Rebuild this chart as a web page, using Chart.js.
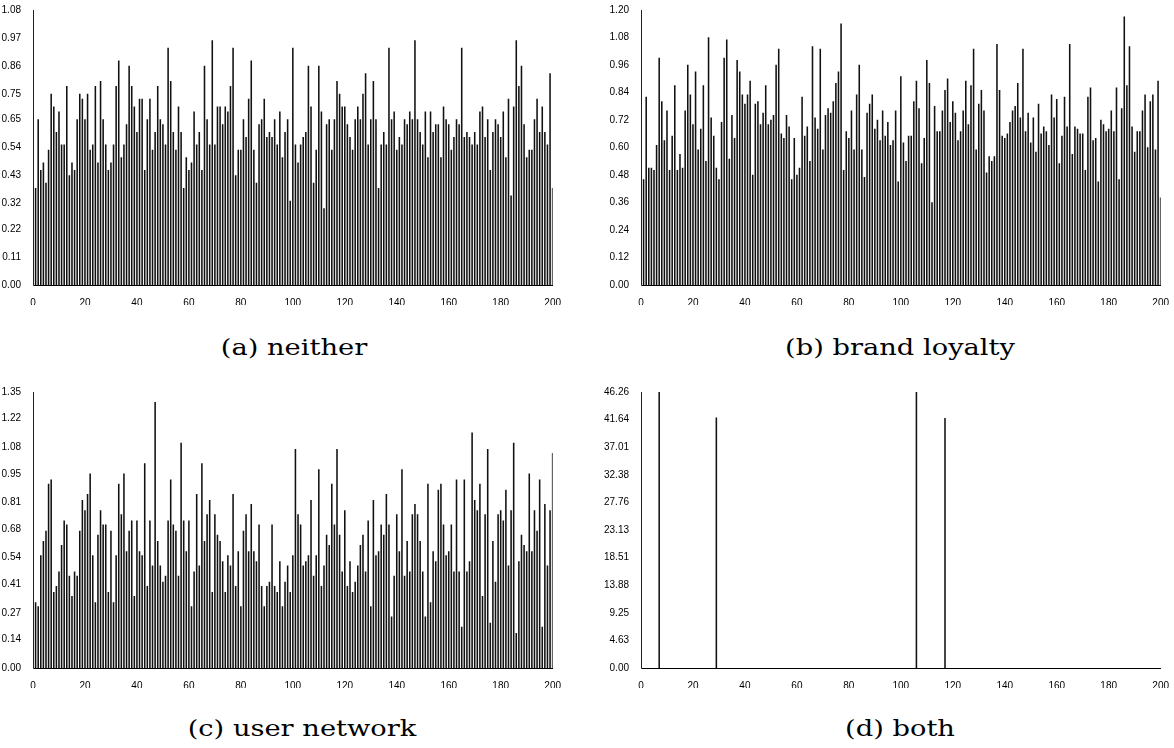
<!DOCTYPE html>
<html lang="en">
<head>
  <meta charset="UTF-8">
  <title>Bar panels</title>
  <style>
    body {
        margin: 0;
        padding: 0;
        width: 1174px;
        height: 748px;
        background: #fff;
        position: relative;
        overflow: hidden;
    }
    .panel {
        position: absolute;
    }
    .caption {
        position: absolute;
        font-family: 'DejaVu Serif', serif;
        font-size: 22px;
        color: #000;
        white-space: nowrap;
        transform: translate(-50%, -50%) scaleX(1.24);
    }
  </style>
</head>
<body>
  <canvas id="chartA" class="panel" width="575" height="305" style="left:-10px; top:0px;"></canvas>
  <canvas id="chartB" class="panel" width="575" height="305" style="left:598px; top:0px;"></canvas>
  <canvas id="chartC" class="panel" width="575" height="306" style="left:-10px; top:382px;"></canvas>
  <canvas id="chartD" class="panel" width="575" height="306" style="left:598px; top:382px;"></canvas>

  <div class="caption" style="left:294px; top:347px;">(a) neither</div>
  <div class="caption" style="left:900px; top:347px;">(b) brand loyalty</div>
  <div class="caption" style="left:302px; top:728px;">(c) user network</div>
  <div class="caption" style="left:900px; top:728px;">(d) both</div>

  <script src="https://cdn.jsdelivr.net/npm/chart.js"></script>
  <script>
    // x ticks shared by all panels (bars sit at 0..200)
    const xTicks = [0, 20, 40, 60, 80, 100, 120, 140, 160, 180, 200];

    // (a) neither, values for x = 0..200
    const neitherVals = [
      1.08, 0.38, 0.65, 0.45, 0.48, 0.40, 0.53, 0.75, 0.70, 0.60,
      0.68, 0.55, 0.55, 0.78, 0.43, 0.48, 0.45, 0.65, 0.75, 0.73,
      0.65, 0.75, 0.53, 0.55, 0.78, 0.48, 0.80, 0.65, 0.55, 0.45,
      0.48, 0.55, 0.78, 0.88, 0.50, 0.55, 0.63, 0.86, 0.78, 0.70,
      0.60, 0.73, 0.73, 0.45, 0.65, 0.73, 0.53, 0.60, 0.78, 0.65,
      0.63, 0.55, 0.93, 0.80, 0.60, 0.53, 0.70, 0.60, 0.38, 0.50,
      0.45, 0.48, 0.68, 0.55, 0.60, 0.45, 0.86, 0.65, 0.55, 0.96,
      0.55, 0.70, 0.70, 0.63, 0.70, 0.68, 0.78, 0.93, 0.43, 0.53,
      0.53, 0.65, 0.58, 0.73, 0.88, 0.53, 0.40, 0.63, 0.65, 0.73,
      0.58, 0.60, 0.58, 0.65, 0.55, 0.68, 0.50, 0.60, 0.65, 0.33,
      0.93, 0.55, 0.48, 0.55, 0.58, 0.60, 0.86, 0.70, 0.40, 0.53,
      0.86, 0.68, 0.30, 0.63, 0.65, 0.53, 0.65, 0.80, 0.75, 0.70,
      0.70, 0.63, 0.58, 0.53, 0.65, 0.70, 0.65, 0.75, 0.83, 0.55,
      0.65, 0.80, 0.65, 0.38, 0.55, 0.60, 0.55, 0.93, 0.65, 0.68,
      0.53, 0.58, 0.55, 0.65, 0.63, 0.68, 0.65, 0.96, 0.65, 0.60,
      0.55, 0.68, 0.50, 0.68, 0.60, 0.63, 0.63, 0.50, 0.70, 0.65,
      0.63, 0.53, 0.58, 0.65, 0.63, 0.93, 0.58, 0.60, 0.58, 0.55,
      0.60, 0.55, 0.68, 0.70, 0.58, 0.65, 0.45, 0.60, 0.65, 0.63,
      0.58, 0.68, 0.50, 0.73, 0.35, 0.70, 0.96, 0.78, 0.86, 0.63,
      0.50, 0.53, 0.53, 0.65, 0.73, 0.60, 0.70, 0.60, 0.55, 0.83,
      0.38
    ];
    const neitherTicks = [0.00, 0.11, 0.22, 0.32, 0.43, 0.54, 0.65, 0.75, 0.86, 0.97, 1.08];

    // (b) brand loyalty
    const loyaltyVals = [
      1.20, 0.46, 0.82, 0.51, 0.51, 0.50, 0.61, 0.99, 0.80, 0.63,
      0.76, 0.50, 0.65, 0.87, 0.50, 0.57, 0.51, 0.76, 0.96, 0.83,
      0.70, 0.93, 0.59, 0.68, 0.87, 0.54, 1.08, 0.73, 0.65, 0.51,
      0.46, 0.71, 0.99, 1.07, 0.55, 0.74, 0.64, 0.98, 0.93, 0.83,
      0.79, 0.83, 0.89, 0.48, 0.79, 0.80, 0.70, 0.75, 0.87, 0.70,
      0.72, 0.74, 0.96, 1.03, 0.66, 0.64, 0.74, 0.69, 0.46, 0.64,
      0.48, 0.51, 0.82, 0.65, 0.69, 0.54, 1.04, 0.73, 0.68, 1.03,
      0.59, 0.74, 0.77, 0.75, 0.80, 0.88, 0.93, 1.14, 0.50, 0.67,
      0.64, 0.76, 0.59, 0.83, 0.96, 0.59, 0.47, 0.75, 0.79, 0.83,
      0.68, 0.72, 0.63, 0.76, 0.65, 0.71, 0.61, 0.63, 0.76, 0.45,
      0.91, 0.62, 0.54, 0.65, 0.65, 0.80, 0.89, 0.77, 0.53, 0.64,
      0.98, 0.88, 0.36, 0.78, 0.67, 0.67, 0.76, 0.85, 0.90, 0.71,
      0.80, 0.75, 0.63, 0.67, 0.76, 0.89, 0.70, 0.87, 1.03, 0.59,
      0.79, 0.85, 0.76, 0.49, 0.56, 0.54, 0.56, 1.05, 0.85, 0.65,
      0.64, 0.66, 0.71, 0.76, 0.78, 0.88, 0.73, 1.03, 0.67, 0.75,
      0.62, 0.73, 0.58, 0.79, 0.66, 0.69, 0.67, 0.61, 0.83, 0.73,
      0.81, 0.53, 0.65, 0.82, 0.69, 1.05, 0.57, 0.69, 0.68, 0.66,
      0.66, 0.50, 0.82, 0.86, 0.63, 0.64, 0.45, 0.72, 0.70, 0.67,
      0.68, 0.76, 0.67, 0.86, 0.46, 0.77, 1.17, 0.87, 1.04, 0.69,
      0.58, 0.67, 0.67, 0.76, 0.83, 0.60, 0.80, 0.83, 0.59, 0.89,
      0.38
    ];
    const loyaltyTicks = [0.00, 0.12, 0.24, 0.36, 0.48, 0.60, 0.72, 0.84, 0.96, 1.08, 1.20];

    // (c) user network
    const networkVals = [
      1.35, 0.32, 0.30, 0.55, 0.62, 0.67, 0.90, 0.92, 0.37, 0.40,
      0.47, 0.60, 0.72, 0.70, 0.45, 0.35, 0.47, 0.45, 0.67, 0.82,
      0.77, 0.85, 0.95, 0.55, 0.32, 0.65, 0.77, 0.70, 0.70, 0.37,
      0.67, 0.32, 0.55, 0.90, 0.75, 0.95, 0.57, 0.67, 0.72, 0.35,
      0.72, 0.57, 0.55, 1.00, 0.40, 0.72, 0.50, 1.30, 0.62, 0.50,
      0.42, 0.45, 0.72, 0.92, 0.70, 0.67, 0.45, 1.10, 0.72, 0.57,
      0.72, 0.30, 0.47, 0.85, 0.50, 1.00, 0.62, 0.75, 0.82, 0.37,
      0.75, 0.65, 0.62, 0.52, 0.37, 0.55, 0.50, 0.85, 0.40, 0.57,
      0.30, 0.67, 0.75, 0.57, 0.80, 0.57, 0.52, 0.70, 0.40, 0.30,
      0.40, 0.42, 0.70, 0.40, 0.37, 0.52, 0.30, 0.42, 0.50, 0.37,
      0.55, 1.07, 0.75, 0.70, 0.50, 0.52, 0.55, 0.82, 0.45, 0.55,
      0.97, 0.40, 0.50, 0.65, 0.60, 0.90, 0.70, 1.07, 0.65, 0.47,
      0.77, 0.40, 0.52, 0.37, 0.42, 0.50, 0.60, 0.65, 0.47, 0.72,
      0.30, 0.82, 0.55, 0.57, 0.70, 0.65, 0.85, 0.70, 0.25, 0.45,
      0.75, 0.57, 0.97, 0.45, 0.62, 0.47, 0.75, 0.80, 0.75, 0.62,
      0.47, 0.25, 0.90, 0.32, 0.57, 0.52, 0.87, 0.90, 0.70, 0.55,
      0.57, 0.70, 0.47, 0.92, 0.47, 0.20, 0.92, 0.47, 0.52, 1.15,
      0.82, 0.77, 0.90, 0.35, 0.75, 1.07, 0.22, 0.62, 0.42, 0.75,
      0.77, 0.72, 0.87, 0.50, 0.77, 1.10, 0.17, 0.52, 0.65, 0.60,
      0.57, 0.95, 0.57, 0.77, 0.67, 0.92, 0.20, 0.80, 0.50, 0.77,
      1.05
    ];
    const networkTicks = [0.00, 0.14, 0.27, 0.41, 0.54, 0.68, 0.81, 0.95, 1.08, 1.22, 1.35];

    // (d) both: zero everywhere except these positions
    const bothX = [0, 7, 29, 106, 117];
    const bothVals = [46.26, 46.26, 41.95, 46.26, 41.85];
    const bothTicks = [0.00, 4.63, 9.25, 13.88, 18.51, 23.13, 27.76, 32.38, 37.01, 41.64, 46.26];

    function drawPanel(id, xs, ys, yTicks) {
      const points = ys.map((v, i) => ({ x: xs[i], y: v }));
      const tickFont = { family: "'Liberation Sans', Arial, sans-serif", size: 10 };
      return new Chart(document.getElementById(id), {
        type: 'bar',
        data: {
          datasets: [{
            data: points,
            backgroundColor: '#111',
            borderWidth: 0,
            barThickness: 0.9
          }]
        },
        options: {
          responsive: false,
          animation: false,
          layout: { padding: { top: 10, right: 12, left: 0, bottom: 0 } },
          plugins: { legend: { display: false }, tooltip: { enabled: false } },
          scales: {
            x: {
              type: 'linear',
              offset: false,
              min: xTicks[0],
              max: xTicks[xTicks.length - 1],
              grid: { display: false },
              border: { display: true, color: '#000', width: 1 },
              afterBuildTicks: s => { s.ticks = xTicks.map(v => ({ value: v })); },
              afterFit: s => { s.height = 20; },
              ticks: { color: '#000', font: tickFont, padding: 4, maxRotation: 0, autoSkip: false }
            },
            y: {
              min: 0,
              max: yTicks[yTicks.length - 1],
              grid: { display: false },
              border: { display: true, color: '#555', width: 1 },
              afterBuildTicks: s => { s.ticks = yTicks.map(v => ({ value: v })); },
              afterFit: s => { s.width = 43; },
              ticks: {
                color: '#000',
                font: tickFont,
                padding: 4,
                autoSkip: false,
                callback: v => Number(v).toFixed(2)
              }
            }
          }
        }
      });
    }

    const allX = neitherVals.map((_, i) => i);
    drawPanel('chartA', allX, neitherVals, neitherTicks);
    drawPanel('chartB', allX, loyaltyVals, loyaltyTicks);
    drawPanel('chartC', allX, networkVals, networkTicks);
    drawPanel('chartD', bothX, bothVals, bothTicks);
  </script>
</body>
</html>
